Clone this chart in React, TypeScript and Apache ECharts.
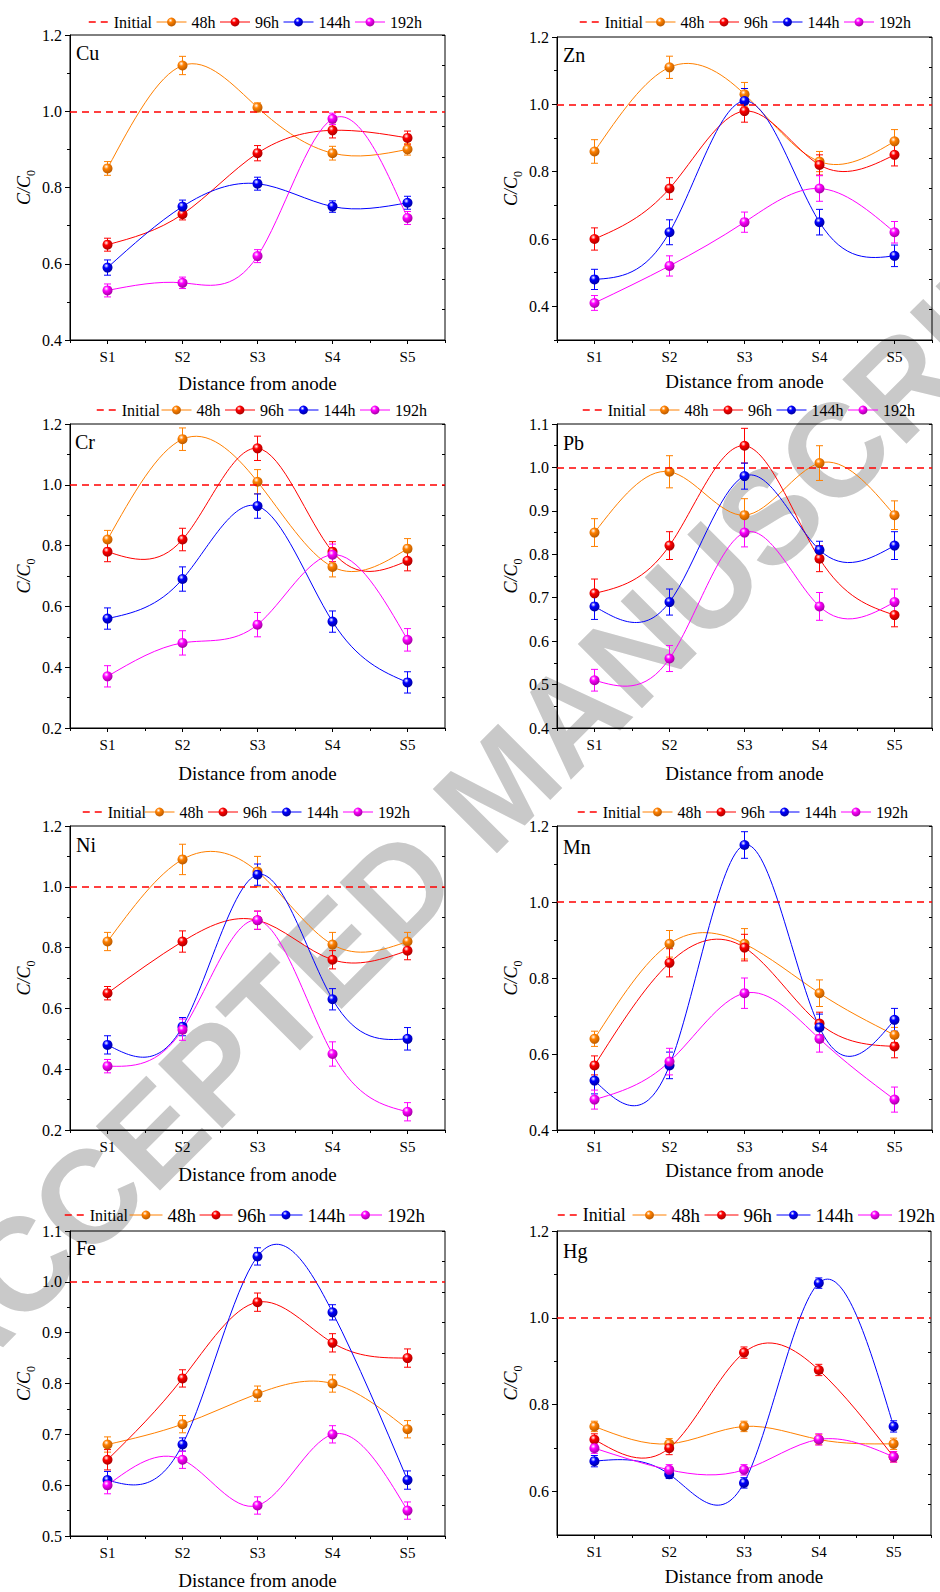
import React, { useEffect, useRef } from "react";
import * as echarts from "echarts";

const categories = ["S1", "S2", "S3", "S4", "S5"];
const seriesNames = ["48h", "96h", "144h", "192h"];
const seriesColors = ["#FF8000", "#FF0000", "#0000FF", "#FF00FF"];
const shadeColors = ["#B85A00", "#A80000", "#0000A0", "#A000A0"];
const initialLevel = 1.0;

// values: rows = 48h, 96h, 144h, 192h ; columns = S1..S5
const cuValues = [
  [0.85, 1.12, 1.01, 0.89, 0.9],
  [0.65, 0.73, 0.89, 0.95, 0.93],
  [0.59, 0.75, 0.81, 0.75, 0.76],
  [0.53, 0.55, 0.62, 0.98, 0.72],
];
const cuErrors = [
  [0.018, 0.024, 0.012, 0.018, 0.015],
  [0.017, 0.015, 0.02, 0.02, 0.018],
  [0.02, 0.017, 0.017, 0.015, 0.017],
  [0.017, 0.015, 0.017, 0.015, 0.017],
];
const znValues = [
  [0.86, 1.11, 1.03, 0.83, 0.89],
  [0.6, 0.75, 0.98, 0.82, 0.85],
  [0.48, 0.62, 1.01, 0.65, 0.55],
  [0.41, 0.52, 0.65, 0.75, 0.62],
];
const znErrors = [
  [0.035, 0.033, 0.035, 0.03, 0.035],
  [0.033, 0.032, 0.033, 0.03, 0.033],
  [0.03, 0.037, 0.037, 0.038, 0.032],
  [0.022, 0.03, 0.03, 0.038, 0.032],
];
const crValues = [
  [0.82, 1.15, 1.01, 0.73, 0.79],
  [0.78, 0.82, 1.12, 0.78, 0.75],
  [0.56, 0.69, 0.93, 0.55, 0.35],
  [0.37, 0.48, 0.54, 0.77, 0.49],
];
const crErrors = [
  [0.03, 0.037, 0.04, 0.033, 0.033],
  [0.033, 0.037, 0.04, 0.033, 0.033],
  [0.035, 0.04, 0.04, 0.035, 0.035],
  [0.035, 0.04, 0.04, 0.035, 0.037],
];
const pbValues = [
  [0.85, 0.99, 0.89, 1.01, 0.89],
  [0.71, 0.82, 1.05, 0.79, 0.66],
  [0.68, 0.69, 0.98, 0.81, 0.82],
  [0.51, 0.56, 0.85, 0.68, 0.69],
];
const pbErrors = [
  [0.032, 0.037, 0.038, 0.04, 0.033],
  [0.033, 0.032, 0.04, 0.03, 0.027],
  [0.03, 0.03, 0.03, 0.02, 0.032],
  [0.025, 0.03, 0.033, 0.032, 0.03],
];
const niValues = [
  [0.82, 1.09, 1.05, 0.81, 0.82],
  [0.65, 0.82, 0.89, 0.76, 0.79],
  [0.48, 0.54, 1.04, 0.63, 0.5],
  [0.41, 0.53, 0.89, 0.45, 0.26],
];
const niErrors = [
  [0.03, 0.05, 0.05, 0.04, 0.03],
  [0.022, 0.035, 0.03, 0.03, 0.03],
  [0.03, 0.03, 0.035, 0.035, 0.037],
  [0.022, 0.035, 0.03, 0.04, 0.03],
];
const mnValues = [
  [0.64, 0.89, 0.89, 0.76, 0.65],
  [0.57, 0.84, 0.88, 0.68, 0.62],
  [0.53, 0.57, 1.15, 0.67, 0.69],
  [0.48, 0.58, 0.76, 0.64, 0.48],
];
const mnErrors = [
  [0.02, 0.035, 0.04, 0.035, 0.02],
  [0.025, 0.037, 0.035, 0.03, 0.03],
  [0.035, 0.035, 0.035, 0.035, 0.03],
  [0.025, 0.035, 0.04, 0.035, 0.033],
];
const feValues = [
  [0.68, 0.72, 0.78, 0.8, 0.71],
  [0.65, 0.81, 0.96, 0.88, 0.85],
  [0.61, 0.68, 1.05, 0.94, 0.61],
  [0.6, 0.65, 0.56, 0.7, 0.55],
];
const feErrors = [
  [0.015, 0.017, 0.015, 0.017, 0.017],
  [0.02, 0.017, 0.018, 0.018, 0.018],
  [0.017, 0.013, 0.017, 0.015, 0.018],
  [0.017, 0.017, 0.017, 0.017, 0.017],
];
const hgValues = [
  [0.75, 0.71, 0.75, 0.72, 0.71],
  [0.72, 0.7, 0.92, 0.88, 0.68],
  [0.67, 0.64, 0.62, 1.08, 0.75],
  [0.7, 0.65, 0.65, 0.72, 0.68],
];
const hgErrors = [
  [0.012, 0.012, 0.012, 0.012, 0.013],
  [0.013, 0.015, 0.013, 0.013, 0.012],
  [0.013, 0.01, 0.012, 0.012, 0.013],
  [0.012, 0.012, 0.012, 0.013, 0.012],
];

// axis ticks
const major02From04 = [0.4, 0.6, 0.8, 1.0, 1.2];
const minor01From04 = [0.5, 0.7, 0.9, 1.1];
const major02From02 = [0.2, 0.4, 0.6, 0.8, 1.0, 1.2];
const minor01From02 = [0.3, 0.5, 0.7, 0.9, 1.1];
const minorZn = [0.3, 0.5, 0.7, 0.9, 1.1];
const majorPb = [0.4, 0.5, 0.6, 0.7, 0.8, 0.9, 1.0, 1.1];
const minorPb = [0.45, 0.55, 0.65, 0.75, 0.85, 0.95, 1.05];
const majorFe = [0.5, 0.6, 0.7, 0.8, 0.9, 1.0, 1.1];
const minorFe = [0.55, 0.65, 0.75, 0.85, 0.95, 1.05];
const majorHg = [0.6, 0.8, 1.0, 1.2];
const minorHg = [0.7, 0.9, 1.1];

const panels = [
  { name: "Cu", values: cuValues, errors: cuErrors, yMin: 0.4, yMax: 1.2, major: major02From04, minor: minor01From04 },
  { name: "Zn", values: znValues, errors: znErrors, yMin: 0.3, yMax: 1.2, major: major02From04, minor: minorZn },
  { name: "Cr", values: crValues, errors: crErrors, yMin: 0.2, yMax: 1.2, major: major02From02, minor: minor01From02 },
  { name: "Pb", values: pbValues, errors: pbErrors, yMin: 0.4, yMax: 1.1, major: majorPb, minor: minorPb },
  { name: "Ni", values: niValues, errors: niErrors, yMin: 0.2, yMax: 1.2, major: major02From02, minor: minor01From02 },
  { name: "Mn", values: mnValues, errors: mnErrors, yMin: 0.4, yMax: 1.2, major: major02From04, minor: minor01From04 },
  { name: "Fe", values: feValues, errors: feErrors, yMin: 0.5, yMax: 1.1, major: majorFe, minor: minorFe },
  { name: "Hg", values: hgValues, errors: hgErrors, yMin: 0.5, yMax: 1.2, major: majorHg, minor: minorHg },
];

// layout (positions / sizes)
const layouts = [
  { left: 70, top: 35, width: 375, height: 305, legendY: 22, initX: 88, restX: 156, itemW: 30, gap: 4, font: 16, initFont: 16, xGap: 34, lx: 76, ly: 53 },
  { left: 557, top: 37, width: 375, height: 303, legendY: 22, initX: 579, restX: 645, itemW: 30, gap: 4, font: 16, initFont: 16, xGap: 32, lx: 563, ly: 55 },
  { left: 70, top: 424, width: 375, height: 304, legendY: 410, initX: 96, restX: 161, itemW: 30, gap: 4, font: 16, initFont: 16, xGap: 36, lx: 75, ly: 442 },
  { left: 557, top: 424, width: 375, height: 304, legendY: 410, initX: 582, restX: 649, itemW: 30, gap: 4, font: 16, initFont: 16, xGap: 36, lx: 563, ly: 443 },
  { left: 70, top: 826, width: 375, height: 304, legendY: 812, initX: 82, restX: 144, itemW: 30, gap: 4, font: 16, initFont: 16, xGap: 35, lx: 76, ly: 845 },
  { left: 557, top: 826, width: 375, height: 304, legendY: 812, initX: 577, restX: 642, itemW: 30, gap: 4, font: 16, initFont: 16, xGap: 31, lx: 563, ly: 847 },
  { left: 70, top: 1231, width: 375, height: 305, legendY: 1215, initX: 64, restX: 129, itemW: 33, gap: 3, font: 19, initFont: 16, xGap: 35, lx: 76, ly: 1248 },
  { left: 557, top: 1231, width: 374, height: 304, legendY: 1215, initX: 557, restX: 632, itemW: 34, gap: 4, font: 19, initFont: 18, xGap: 32, lx: 563, ly: 1251 },
];

const FONT = '"Liberation Serif", "Times New Roman", serif';

function ball(k: number) {
  return new echarts.graphic.RadialGradient(0.38, 0.32, 0.7, [
    { offset: 0, color: "#ffffff" },
    { offset: 0.35, color: seriesColors[k] },
    { offset: 1, color: shadeColors[k] },
  ]);
}

// natural cubic spline slopes for pixel points (x increasing)
function splineSlopes(pts: number[][]) {
  const n = pts.length;
  const x = pts.map((q) => q[0]);
  const y = pts.map((q) => q[1]);
  const h: number[] = [];
  for (let i = 0; i < n - 1; i++) h.push(x[i + 1] - x[i]);
  const a = new Array(n).fill(0);
  const b = new Array(n).fill(0);
  const c = new Array(n).fill(0);
  const r = new Array(n).fill(0);
  b[0] = 1;
  b[n - 1] = 1;
  for (let i = 1; i < n - 1; i++) {
    a[i] = h[i - 1];
    b[i] = 2 * (h[i - 1] + h[i]);
    c[i] = h[i];
    r[i] = 6 * ((y[i + 1] - y[i]) / h[i] - (y[i] - y[i - 1]) / h[i - 1]);
  }
  for (let i = 1; i < n; i++) {
    const w = a[i] / b[i - 1];
    b[i] -= w * c[i - 1];
    r[i] -= w * r[i - 1];
  }
  const M = new Array(n).fill(0);
  M[n - 1] = r[n - 1] / b[n - 1];
  for (let i = n - 2; i >= 0; i--) M[i] = (r[i] - c[i] * M[i + 1]) / b[i];
  const d: number[] = [];
  for (let i = 0; i < n - 1; i++) d.push((y[i + 1] - y[i]) / h[i] - (h[i] * (2 * M[i] + M[i + 1])) / 6);
  d.push((y[n - 1] - y[n - 2]) / h[n - 2] + (h[n - 2] * (M[n - 2] + 2 * M[n - 1])) / 6);
  return d;
}

function buildOption() {
  const grid: any[] = [];
  const xAxis: any[] = [];
  const yAxis: any[] = [];
  const series: any[] = [];
  const legend: any[] = [];
  const graphic: any[] = [];

  panels.forEach((p, i) => {
    const L = layouts[i];
    grid.push({
      left: L.left,
      top: L.top,
      width: L.width,
      height: L.height,
      show: true,
      borderColor: "#000",
      borderWidth: 1,
      backgroundColor: "transparent",
    });
    const xi = xAxis.length;
    xAxis.push({
      type: "category",
      gridIndex: i,
      position: "bottom",
      data: categories,
      boundaryGap: true,
      axisLine: { show: true, lineStyle: { color: "#000", width: 1 } },
      axisTick: { show: true, alignWithLabel: true, length: 4, lineStyle: { color: "#000" } },
      axisLabel: { color: "#000", fontFamily: FONT, fontSize: 15, margin: 9 },
      splitLine: { show: false },
      name: "Distance from anode",
      nameLocation: "middle",
      nameGap: L.xGap,
      nameTextStyle: { color: "#000", fontFamily: FONT, fontSize: 19 },
    });
    xAxis.push({
      type: "category",
      gridIndex: i,
      position: "bottom",
      data: categories,
      boundaryGap: true,
      axisLine: { show: false },
      axisTick: { show: true, length: 3, lineStyle: { color: "#000" } },
      axisLabel: { show: false },
      splitLine: { show: false },
    });
    const yi = yAxis.length;
    yAxis.push({
      type: "value",
      gridIndex: i,
      position: "left",
      min: p.yMin,
      max: p.yMax,
      axisLine: { show: true, lineStyle: { color: "#000", width: 1 } },
      axisTick: { show: true, length: 5, customValues: p.major, lineStyle: { color: "#000" } },
      axisLabel: {
        customValues: p.major,
        formatter: (v: number) => v.toFixed(1),
        color: "#000",
        fontFamily: FONT,
        fontSize: 16,
        margin: 8,
      },
      splitLine: { show: false },
      name: "{i|C/C}{s|0}",
      nameLocation: "middle",
      nameGap: 33,
      nameRotate: 90,
      nameTextStyle: {
        color: "#000",
        rich: {
          i: { fontFamily: FONT, fontStyle: "italic", fontSize: 18, color: "#000", lineHeight: 26 },
          s: { fontFamily: FONT, fontSize: 12, color: "#000", lineHeight: 15, verticalAlign: "bottom" },
        },
      },
    });
    yAxis.push({
      type: "value",
      gridIndex: i,
      position: "left",
      min: p.yMin,
      max: p.yMax,
      axisLine: { show: false },
      axisTick: { show: true, length: 3, customValues: p.minor, lineStyle: { color: "#000" } },
      axisLabel: { show: false },
      splitLine: { show: false },
    });
    yAxis.push({
      type: "value",
      gridIndex: i,
      position: "right",
      min: 0,
      max: 10,
      interval: 1,
      axisLine: { show: false },
      axisTick: { show: true, inside: true, length: 3, lineStyle: { color: "#000" } },
      axisLabel: { show: false },
      splitLine: { show: false },
    });

    series.push({
      type: "line",
      name: "Initial",
      xAxisIndex: xi,
      yAxisIndex: yi,
      data: [],
      symbol: "none",
      itemStyle: { color: "rgba(0,0,0,0)" },
      lineStyle: { color: "#FF0000", width: 1.5, type: [7, 5] },
      markLine: {
        silent: true,
        symbol: ["none", "none"],
        label: { show: false },
        lineStyle: { color: "#FF0000", width: 1.5, type: [7, 5] },
        data: [{ yAxis: initialLevel }],
      },
      z: 2,
    });

    seriesNames.forEach((sn, k) => {
      const color = seriesColors[k];
      const vals = p.values[k];
      // spline curve through the data points (drawn via the axes' scales)
      series.push({
        type: "custom",
        name: sn + " curve",
        xAxisIndex: xi,
        yAxisIndex: yi,
        silent: true,
        z: 2,
        data: vals.map((v, j) => [j, v]),
        renderItem: (params: any, api: any) => {
          const j = params.dataIndex;
          if (j >= vals.length - 1) return null;
          const pts = vals.map((v, m) => api.coord([m, v]));
          const d = splineSlopes(pts);
          const h = pts[j + 1][0] - pts[j][0];
          return {
            type: "bezierCurve",
            shape: {
              x1: pts[j][0],
              y1: pts[j][1],
              cpx1: pts[j][0] + h / 3,
              cpy1: pts[j][1] + (d[j] * h) / 3,
              cpx2: pts[j + 1][0] - h / 3,
              cpy2: pts[j + 1][1] - (d[j + 1] * h) / 3,
              x2: pts[j + 1][0],
              y2: pts[j + 1][1],
            },
            style: { stroke: color, lineWidth: 1, fill: "none" },
          };
        },
      });
      series.push({
        type: "custom",
        name: sn + " error",
        xAxisIndex: xi,
        yAxisIndex: yi,
        silent: true,
        z: 3,
        data: vals.map((v, j) => [j, v, p.errors[k][j]]),
        renderItem: (params: any, api: any) => {
          const x = api.value(0);
          const y = api.value(1);
          const e = api.value(2);
          const hi = api.coord([x, y + e]);
          const lo = api.coord([x, y - e]);
          const hw = 3.5;
          const st = { stroke: color, lineWidth: 1 };
          return {
            type: "group",
            children: [
              { type: "line", shape: { x1: hi[0], y1: hi[1], x2: lo[0], y2: lo[1] }, style: st },
              { type: "line", shape: { x1: hi[0] - hw, y1: hi[1], x2: hi[0] + hw, y2: hi[1] }, style: st },
              { type: "line", shape: { x1: lo[0] - hw, y1: lo[1], x2: lo[0] + hw, y2: lo[1] }, style: st },
            ],
          };
        },
      });
      series.push({
        type: "line",
        name: sn,
        xAxisIndex: xi,
        yAxisIndex: yi,
        data: vals,
        smooth: false,
        symbol: "circle",
        symbolSize: 10,
        showSymbol: true,
        lineStyle: { color, width: 1, opacity: 0 },
        itemStyle: { color: ball(k), borderWidth: 0 },
        emphasis: { disabled: true },
        z: 4,
      });
    });

    legend.push({
      data: ["Initial"],
      left: L.initX,
      top: L.legendY - L.initFont / 2,
      width: 200,
      padding: 0,
      itemWidth: 20,
      itemHeight: 11,
      itemGap: 4,
      selectedMode: false,
      lineStyle: { width: 1.5, opacity: 1 },
      textStyle: { fontFamily: FONT, fontSize: L.initFont, color: "#000" },
    });
    legend.push({
      data: seriesNames,
      left: L.restX,
      top: L.legendY - L.font / 2,
      width: 400,
      padding: 0,
      itemWidth: L.itemW,
      itemHeight: 11,
      itemGap: L.gap,
      selectedMode: false,
      lineStyle: { width: 1, opacity: 1 },
      textStyle: { fontFamily: FONT, fontSize: L.font, color: "#000" },
    });

    graphic.push({
      type: "text",
      x: L.lx,
      y: L.ly,
      z: 10,
      style: {
        text: p.name,
        font: '20px "Liberation Serif"',
        fill: "#000",
        verticalAlign: "middle",
        textVerticalAlign: "middle",
      },
    });
  });

  graphic.push({
    type: "text",
    x: 500,
    y: 786,
    rotation: Math.PI / 4,
    z: -100,
    silent: true,
    style: {
      text: "ACCEPTED MANUSCRIPT",
      font: 'bold 132px "Liberation Sans"',
      fill: "#c9c9c9",
      align: "center",
      textAlign: "center",
      verticalAlign: "middle",
      textVerticalAlign: "middle",
    },
  });

  return {
    animation: false,
    backgroundColor: "#ffffff",
    grid,
    xAxis,
    yAxis,
    legend,
    series,
    graphic,
  };
}

export default function App() {
  const ref = useRef<HTMLDivElement>(null);
  useEffect(() => {
    document.body.style.margin = "0";
    const chart = echarts.init(ref.current!, null, { renderer: "svg" });
    chart.setOption(buildOption() as any);
    return () => chart.dispose();
  }, []);
  return <div ref={ref} style={{ width: 940, height: 1592 }} />;
}
